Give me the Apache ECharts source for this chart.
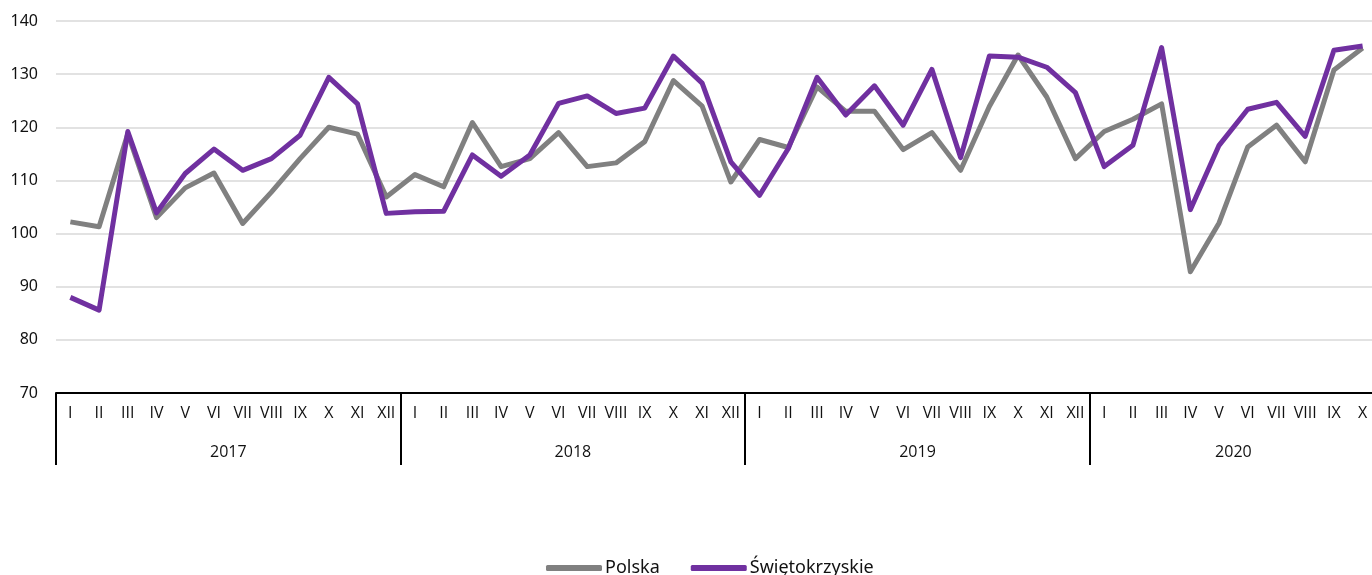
<!DOCTYPE html>
<html>
<head>
<meta charset="utf-8">
<script src="https://cdn.jsdelivr.net/npm/echarts@6/dist/echarts.min.js"></script>
<style>
html,body{margin:0;padding:0;background:#fff;}
#chart{width:1372px;height:575px;}
</style>
</head>
<body>
<div id="chart"></div>
<script>
const months = ['I','II','III','IV','V','VI','VII','VIII','IX','X','XI','XII'];
const years = ['2017','2018','2019','2020'];
const monthsInYear = [12, 12, 12, 10];
const categories = [].concat(months, months, months, months.slice(0, 10));

const polska = [
  102.2, 101.3, 118.8, 103.0, 108.6, 111.4, 101.9, 107.8, 114.1, 120.0, 118.7, 106.9,
  111.1, 108.8, 120.9, 112.6, 114.1, 119.0, 112.6, 113.3, 117.3, 128.8, 124.0, 109.7,
  117.7, 116.2, 127.6, 123.0, 123.0, 115.8, 119.0, 111.9, 123.9, 133.6, 125.7, 114.1,
  119.2, 121.5, 124.4, 92.8, 102.0, 116.3, 120.4, 113.5, 130.8, 134.9
];
const swietokrzyskie = [
  88.0, 85.6, 119.2, 103.9, 111.3, 115.9, 111.9, 114.1, 118.5, 129.4, 124.4, 103.8,
  104.1, 104.2, 114.8, 110.8, 114.8, 124.5, 125.9, 122.6, 123.6, 133.4, 128.3, 113.5,
  107.2, 116.0, 129.4, 122.3, 127.8, 120.4, 130.9, 114.3, 133.4, 133.2, 131.3, 126.5,
  112.6, 116.6, 135.0, 104.5, 116.6, 123.4, 124.7, 118.3, 134.5, 135.3
];
const seriesNames = ['Polska', 'Świętokrzyskie'];

// year boundaries and centres (in month units)
const yearStarts = [];
const yearCentres = [];
let acc = 0;
monthsInYear.forEach(n => { yearStarts.push(acc); yearCentres.push(acc + n / 2); acc += n; });

const chart = echarts.init(document.getElementById('chart'), null, {renderer: 'canvas'});
const txt = '#111111';
const labelFont = 'Open Sans';
chart.setOption({
  animation: false,
  backgroundColor: '#ffffff',
  textStyle: {fontFamily: 'Noto Sans'},
  grid: {left: 56, top: 21, width: 1321, height: 372, containLabel: false, outerBoundsMode: 'none'},
  legend: {
    data: seriesNames,
    top: 554,
    left: 541,
    icon: 'roundRect',
    itemWidth: 56,
    itemHeight: 6,
    itemGap: 31,
    textStyle: {fontSize: 18, color: txt, fontFamily: 'Noto Sans', padding: [0, 0, 0, -2]}
  },
  xAxis: [
    {
      type: 'category',
      data: categories,
      boundaryGap: true,
      position: 'bottom',
      axisLine: {show: true, lineStyle: {color: '#000', width: 2}},
      axisTick: {show: false},
      axisLabel: {interval: 0, margin: 12, fontSize: 16, color: txt, fontFamily: labelFont},
      splitLine: {show: false}
    },
    {
      type: 'value',
      min: 0,
      max: acc,
      position: 'bottom',
      axisLine: {show: false},
      axisTick: {show: true, customValues: yearStarts, length: 72, lineStyle: {color: '#000', width: 2}},
      axisLabel: {
        customValues: yearCentres,
        margin: 51,
        fontSize: 16,
        color: txt,
        fontFamily: labelFont,
        formatter: function (v) {
          const i = yearCentres.indexOf(v);
          return i >= 0 ? years[i] : '';
        }
      },
      splitLine: {show: false}
    }
  ],
  yAxis: {
    type: 'value',
    min: 70,
    max: 140,
    interval: 10,
    axisLine: {show: false},
    axisTick: {show: false},
    axisLabel: {fontSize: 16, color: txt, margin: 18, fontFamily: 'Noto Sans'},
    splitLine: {lineStyle: {color: '#d9d9d9', width: 1.5}}
  },
  series: [
    {
      name: seriesNames[0],
      type: 'line',
      data: polska,
      xAxisIndex: 0,
      symbol: 'none',
      lineStyle: {color: '#808080', width: 5, join: 'round'},
      itemStyle: {color: '#808080'}
    },
    {
      name: seriesNames[1],
      type: 'line',
      data: swietokrzyskie,
      xAxisIndex: 0,
      symbol: 'none',
      lineStyle: {color: '#7030a0', width: 5, join: 'round'},
      itemStyle: {color: '#7030a0'}
    }
  ]
});
</script>
</body>
</html>
